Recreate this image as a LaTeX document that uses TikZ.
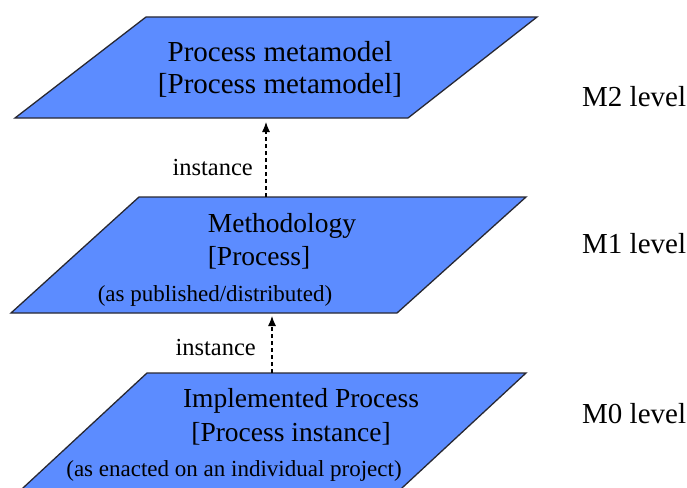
\documentclass[tikz,border=0pt]{standalone}
\usepackage{fontspec}
\setmainfont{Liberation Serif}
\usetikzlibrary{arrows.meta}
\definecolor{planefill}{RGB}{92,140,255}
\definecolor{planeedge}{RGB}{40,40,50}
\tikzset{
  plane/.style={fill=planefill, draw=planeedge, line width=1.3pt, line join=miter},
  bigtext/.style={font=\fontsize{29}{31}\selectfont, inner sep=0pt, anchor=base},
  midtext/.style={font=\fontsize{27.5}{31}\selectfont, inner sep=0pt, anchor=base},
  smalltext/.style={font=\fontsize{23}{26}\selectfont, inner sep=0pt},
  linktext/.style={font=\fontsize{24.5}{26}\selectfont, inner sep=0pt, anchor=base east},
  leveltext/.style={font=\fontsize{29}{31}\selectfont, inner sep=0pt, anchor=base west},
  instarrow/.style={dashed, dash pattern=on 4pt off 3pt, line width=1.1pt,
    -{Latex[length=10pt,width=8pt]}}
}
\begin{document}
\begin{tikzpicture}[x=1pt,y=-1pt]
\clip (0,0) rectangle (687,487);
\fill[white] (0,0) rectangle (687,487);

% M2 plane
\draw[plane] (146,17) -- (537,17) -- (408,118) -- (15,118) -- cycle;
\node[bigtext] (m2name) at (280,62) {Process metamodel};
\node[bigtext] (m2kind) at (280,93) {[Process metamodel]};

% M1 plane
\draw[plane] (139,197) -- (526,197) -- (397,313) -- (11,313) -- cycle;
\node[midtext] (m1name) at (282,232) {Methodology};
\node[midtext] (m1kind) at (259,265) {[Process]};
\node[smalltext, anchor=base] (m1note) at (215,301) {(as published/distributed)};

% M0 plane, running off the lower edge
\draw[plane] (147,373) -- (526,373) -- (389,500) -- (10,500) -- cycle;
\node[midtext] (m0name) at (301,407) {Implemented Process};
\node[midtext] (m0kind) at (291,441) {[Process instance]};
\node[smalltext, anchor=base] (m0note) at (234,476) {(as enacted on an individual project)};

% instance-of links between levels
\coordinate (m1top) at (266,197);
\coordinate (m2bottom) at (266,122);
\coordinate (m0top) at (272,373);
\coordinate (m1bottom) at (272,316);
\draw[instarrow] (m1top) -- (m2bottom);
\draw[instarrow] (m0top) -- (m1bottom);
\node[linktext] (inst1) at (253,175) {instance};
\node[linktext] (inst2) at (256,355) {instance};

% level labels
\node[leveltext] (lvl2) at (582,106) {M2 level};
\node[leveltext] (lvl1) at (582,253) {M1 level};
\node[leveltext] (lvl0) at (582,423) {M0 level};
\end{tikzpicture}
\end{document}
